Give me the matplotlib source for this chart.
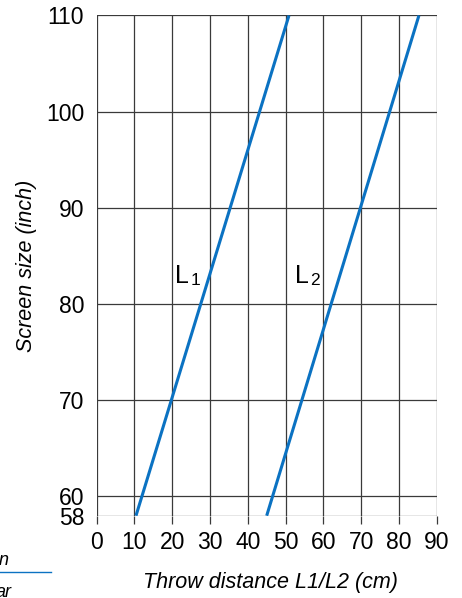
import matplotlib; matplotlib.use("Agg")
import matplotlib.pyplot as plt
from matplotlib.lines import Line2D

# screen size (inch) vs throw distance (cm)
screen = [58, 110]
l1 = [10.4, 50.9]
l2 = [45.0, 85.3]
xticks = [0, 10, 20, 30, 40, 50, 60, 70, 80, 90]
yticks = [58, 60, 70, 80, 90, 100, 110]

BLUE = "#0b72c2"; GRID = "#3a3a3a"
plt.rcParams["font.family"] = ["Liberation Sans", "DejaVu Sans"]

fig = plt.figure(figsize=(4.62, 5.98), dpi=100)
ax = fig.add_axes([0.2093, 0.1376, 0.7359, 0.8365])

ax.plot(l1, screen, color=BLUE, lw=2.2, solid_capstyle="butt", zorder=3)
ax.plot(l2, screen, color=BLUE, lw=2.2, solid_capstyle="butt", zorder=3)

for x in xticks:
    ax.axvline(x, color=GRID, lw=0.9, zorder=1)
for y in yticks:
    ax.axhline(y, color=GRID, lw=0.9, zorder=1)

ax.set_xlim(0, 90); ax.set_ylim(58, 110)
ax.set_xticks(xticks); ax.set_yticks(yticks)
ax.tick_params(axis="x", direction="out", length=6, width=0.9, color=GRID, pad=5, labelsize=16.5)
ax.tick_params(axis="y", length=0, pad=9, labelsize=16.5)
for s in ax.spines.values():
    s.set_visible(False)

ax.set_xlabel("Throw distance L1/L2 (cm)", style="italic", fontsize=15.5)
ax.xaxis.set_label_coords(0.51, -0.112)
ax.set_ylabel("Screen size (inch)", style="italic", fontsize=15.5, va="center")
ax.yaxis.set_label_coords(-0.205, 0.5)

# curve labels: big L with smaller digit
for lx, d in [(20.7, "1"), (52.5, "2")]:
    t = ax.text(lx, 82.2, "L", fontsize=18, ha="left", va="baseline", zorder=4)
    ax.annotate(d, xy=(1, 0), xycoords=t, xytext=(1, 0), textcoords="offset points",
                fontsize=12.5, ha="left", va="bottom", zorder=4)

# clipped bits of the neighbouring figure at the bottom-left edge
fig.text(9/462, 1-565/598, "n", style="italic", fontsize=13, ha="right", va="baseline")
fig.add_artist(Line2D([0, 51/462], [1-572/598, 1-572/598], color=BLUE, lw=1.0))
fig.text(12/462, 1-597/598, "ar", style="italic", fontsize=13, ha="right", va="baseline")

fig.savefig("out.png", dpi=100)
